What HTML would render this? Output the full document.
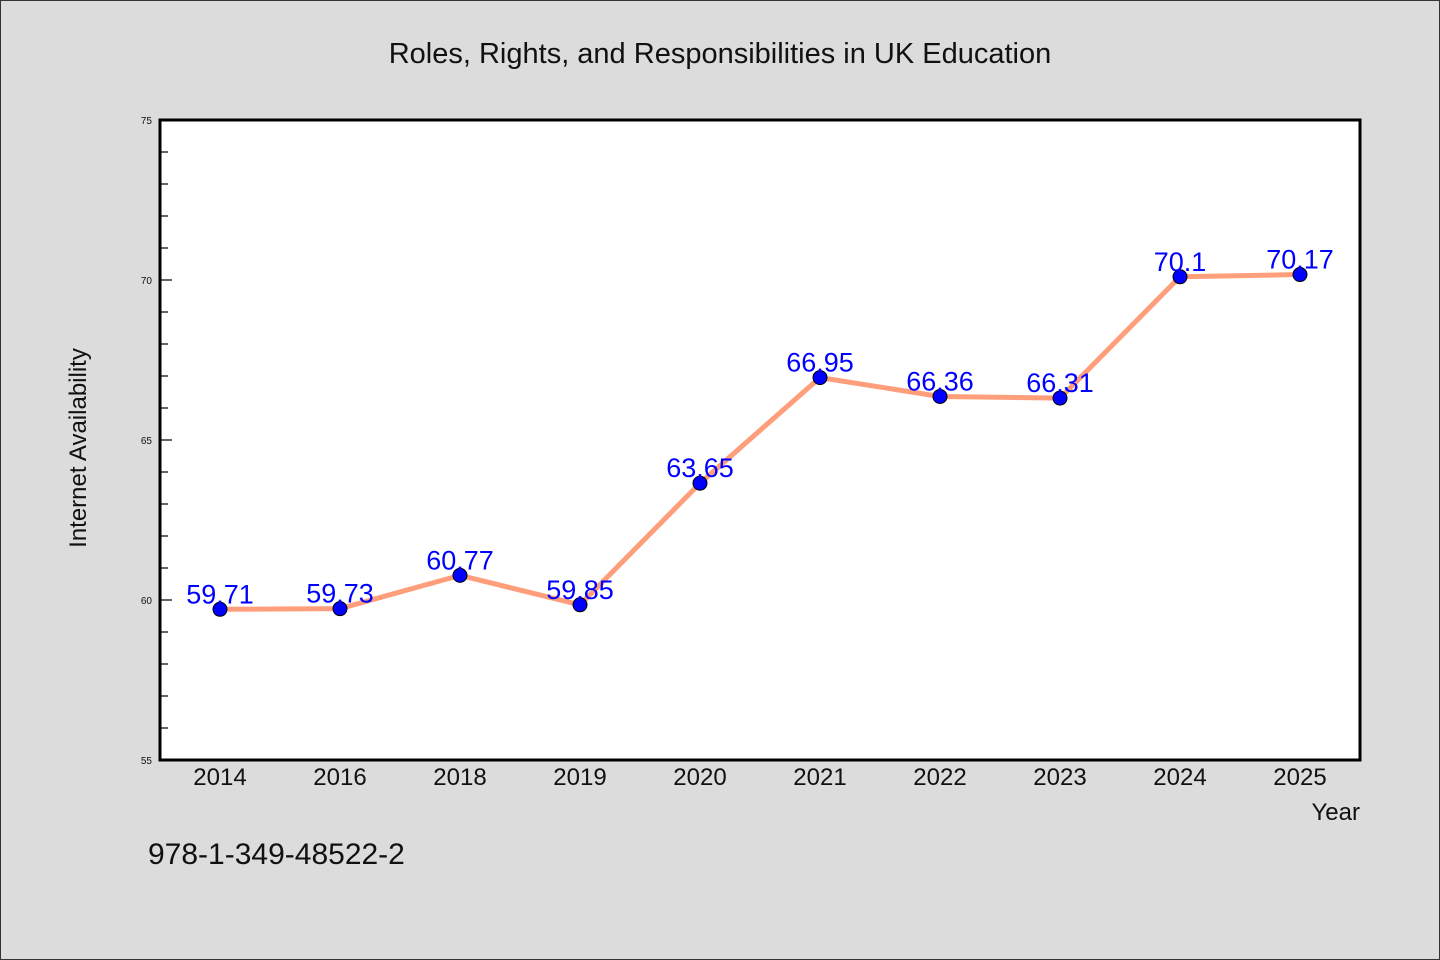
<!DOCTYPE html>
<html><head><meta charset="utf-8"><style>
body{margin:0;background:#dcdcdc;}
svg{display:block;font-family:"WenQuanYi Zen Hei","Liberation Sans",sans-serif;}
</style></head><body>
<svg id="chart" width="1440" height="960" xmlns="http://www.w3.org/2000/svg">
<rect x="0.5" y="0.5" width="1439" height="959" fill="#dcdcdc" stroke="#333"/>
<text x="720" y="63" text-anchor="middle" font-size="29" fill="#111">Roles, Rights, and Responsibilities in UK Education</text>
<rect x="160" y="120" width="1200" height="640" fill="#fff"/>
<g id="ticks"></g>
<g id="series"></g>
<rect x="160" y="120" width="1200" height="640" fill="none" stroke="#000" stroke-width="3"/>
<text x="86" y="448" text-anchor="middle" font-size="24" fill="#111" transform="rotate(-90 86 448)">Internet Availability</text>
<text x="1360" y="820" text-anchor="end" font-size="24" fill="#111">Year</text>
<text x="148" y="864" font-size="30" fill="#111">978-1-349-48522-2</text>
</svg>
<script>
const categories=["2014","2016","2018","2019","2020","2021","2022","2023","2024","2025"];
const values=[59.71,59.73,60.77,59.85,63.65,66.95,66.36,66.31,70.1,70.17];
const valueLabels=["59.71","59.73","60.77","59.85","63.65","66.95","66.36","66.31","70.1","70.17"];
const yTicks=[55,60,65,70,75];
const NS="http://www.w3.org/2000/svg";
const L=160,R=1360,T=120,B=760,yMin=55,yMax=75;
const x=i=>L+(R-L)/categories.length*(i+0.5);
const y=v=>B-(v-yMin)/(yMax-yMin)*(B-T);
function mk(t,a,p){const e=document.createElementNS(NS,t);for(const k in a)e.setAttribute(k,a[k]);p.appendChild(e);return e;}
const tg=document.getElementById('ticks'),sg=document.getElementById('series');
for(let v=yMin;v<=yMax;v++){
 const major=v%5===0;
 const l=mk('line',{x1:L,x2:L+(major?12:8),y1:y(v),y2:y(v),stroke:'#000','stroke-width':1.2},tg);
 
 
}
yTicks.forEach(v=>{
 const t=mk('text',{x:152,y:y(v)+4,'text-anchor':'end','font-size':10,fill:'#111'},tg);
 t.textContent=v;
 
 
});
categories.forEach((c,i)=>{
 const t=mk('text',{x:x(i),y:785,'text-anchor':'middle','font-size':24,fill:'#111'},tg);
 t.textContent=c;
 
 
});
const line=mk('polyline',{points:values.map((v,i)=>x(i)+','+y(v)).join(' '),fill:'none',stroke:'#ff9e7a','stroke-width':5,'stroke-linejoin':'round'},sg);


values.forEach((v,i)=>{
 const c=mk('circle',{cx:x(i),cy:y(v),r:7,fill:'#0000ff',stroke:'#000','stroke-width':1},sg);
 
 
 const t=mk('text',{x:x(i),y:y(v)-6,'text-anchor':'middle','font-size':27,fill:'#0000ff'},sg);
 t.textContent=valueLabels[i];
 
 
});
</script>
</body></html>
